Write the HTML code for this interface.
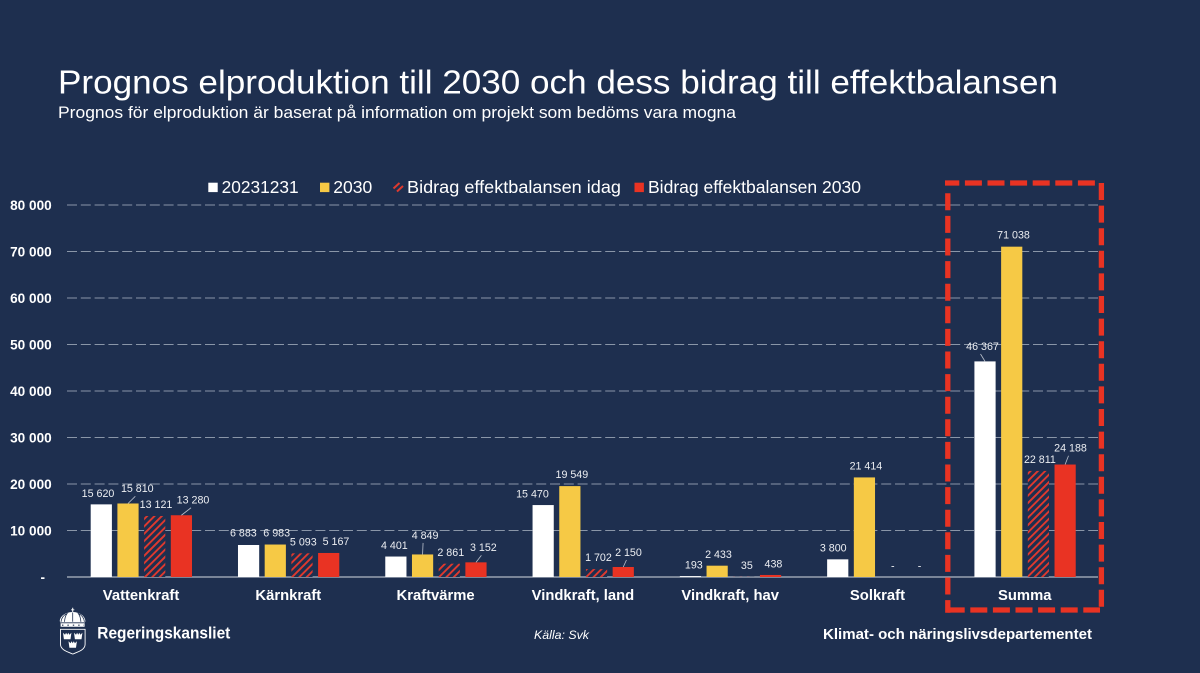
<!DOCTYPE html>
<html lang="sv">
<head>
<meta charset="utf-8">
<title>Prognos elproduktion till 2030</title>
<style>
  html, body { margin: 0; padding: 0; background: #1e2f4f; width: 1200px; height: 673px; overflow: hidden; }
  svg { display: block; font-family: "Liberation Sans", sans-serif; }
</style>
</head>
<body>
<svg id="chart" xmlns="http://www.w3.org/2000/svg" width="1200" height="673" viewBox="0 0 1200 673">
  <defs>
    <pattern id="hatch" patternUnits="userSpaceOnUse" width="5.2" height="5.2" patternTransform="rotate(45)">
      <rect x="0" y="0" width="5.2" height="5.2" fill="#1e2f4f"></rect>
      <rect x="0" y="0" width="1.9" height="5.2" fill="#e0392e"></rect>
    </pattern>
  </defs>
  <rect x="0" y="0" width="1200" height="673" fill="#1e2f4f"></rect>

  <text x="58" y="93.3" font-size="33.6" fill="#ffffff" textLength="1000" lengthAdjust="spacingAndGlyphs">Prognos elproduktion till 2030 och dess bidrag till effektbalansen</text>
  <text x="58" y="117.8" font-size="16.6" fill="#ffffff" textLength="678" lengthAdjust="spacingAndGlyphs">Prognos för elproduktion är baserat på information om projekt som bedöms vara mogna</text>

  <g id="plot"></g>

  <g font-size="17.2" fill="#ffffff">
    <g>
      <rect x="208.3" y="182.7" width="9.4" height="9.4" fill="#ffffff"></rect>
      <text x="221.7" y="193" textLength="77" lengthAdjust="spacingAndGlyphs">20231231</text>
    </g>
    <g>
      <rect x="320" y="182.7" width="9.4" height="9.4" fill="#f6c945"></rect>
      <text x="333.3" y="193" textLength="39" lengthAdjust="spacingAndGlyphs">2030</text>
    </g>
    <g>
      <g stroke="#e0392e" stroke-width="2" fill="none">
        <line x1="393.5" y1="188.5" x2="399.5" y2="183"></line>
        <line x1="397" y1="191.5" x2="403" y2="186"></line>
      </g>
      <text x="407" y="193" textLength="214" lengthAdjust="spacingAndGlyphs">Bidrag effektbalansen idag</text>
    </g>
    <g>
      <rect x="634.5" y="182.7" width="9.4" height="9.4" fill="#e93323"></rect>
      <text x="648" y="193" textLength="213" lengthAdjust="spacingAndGlyphs">Bidrag effektbalansen 2030</text>
    </g>
  </g>

  <g stroke="#e93323" stroke-width="5.3" fill="none" stroke-dasharray="17 5.6">
    <line x1="945" y1="183" x2="1098" y2="183" stroke-dashoffset="2.7"></line>
    <line x1="1101.4" y1="181" x2="1101.4" y2="607" stroke-dashoffset="-2"></line>
    <line x1="947.7" y1="610" x2="1100" y2="610"></line>
    <line x1="947.8" y1="193.3" x2="947.8" y2="612.7"></line>
  </g>

  <g>
    <g>
      <path fill="#ffffff" d="M72.2 607.8h1v1.6h1.100v.9h-1.100v1.700c7 .4 12 4.300 12.200 9.200l-.8 1.700v3.800H60.600v-3.800l-.8-1.700c.2-4.900 5.200-8.800 12.400-9.200v-1.700h-1.100v-.9h1.100z"></path>
      <path fill="none" stroke="#1e2f4f" stroke-width=".8" d="M61 621.800c.4-3.800 2.800-6.800 6-8.200-1.600 2.200-2.300 5.200-2.500 8.200M84.400 621.800c-.4-3.800-2.800-6.800-6-8.200 1.600 2.200 2.300 5.200 2.500 8.200M72.700 612.500v9.300M60.600 622.800h24.200"></path>
      <path fill="none" stroke="#1e2f4f" stroke-width="1.1" stroke-dasharray="1.400 4" d="M62 625.200h22"></path>
      <path fill="none" stroke="#ffffff" stroke-width=".9" d="M60.500 629.300h24.600v15c0 5.300-6 7.300-12.300 9.700-6.300-2.400-12.300-4.400-12.300-9.700z"></path>
      <path fill="#ffffff" d="M63 632.800l2 2 1.100-2 1.100 2 1.100-2 1.100 2 2-2-.9 6.400h-6.600z"></path>
      <path fill="#ffffff" d="M74 632.800l2 2 1.100-2 1.100 2 1.100-2 1.100 2 2-2-.9 6.400h-6.600z"></path>
      <path fill="#ffffff" d="M68.500 641.300l2 2 1.100-2 1.100 2 1.100-2 1.100 2 2-2-.9 6.400h-6.600z"></path>
    </g>
    <text x="97.300" y="638.500" font-size="16.500" font-weight="700" fill="#ffffff" textLength="133" lengthAdjust="spacingAndGlyphs">Regeringskansliet</text>
  </g>
  <text x="534" y="639" font-size="12" font-style="italic" fill="#ffffff" textLength="55" lengthAdjust="spacingAndGlyphs">Källa: Svk</text>
  <text x="823" y="639" font-size="14.300" font-weight="700" fill="#ffffff" textLength="269" lengthAdjust="spacingAndGlyphs">Klimat- och näringslivsdepartementet</text>
</svg>

<script>
const categories = ["Vattenkraft", "Kärnkraft", "Kraftvärme", "Vindkraft, land", "Vindkraft, hav", "Solkraft", "Summa"];
const produktion2023 = [15620, 6883, 4401, 15470, 193, 3800, 46367];
const produktion2030 = [15810, 6983, 4849, 19549, 2433, 21414, 71038];
const bidragIdag = [13121, 5093, 2861, 1702, 35, 0, 22811];
const bidrag2030 = [13280, 5167, 3152, 2150, 438, 0, 24188];
const yTicks = [0, 10000, 20000, 30000, 40000, 50000, 60000, 70000, 80000];

function renderChart() {
  const NS = "http://www.w3.org/2000/svg";
  const plot = document.getElementById("plot");
  const plotLeft = 67;
  const plotRight = 1098;
  const baseY = 577;
  const pxPerUnit = 372 / 80000;
  const groupStep = (plotRight - plotLeft) / categories.length;
  const barWidth = 21.2;
  const barStep = 26.7;
  const groupPad = 23.7;
  const seriesList = [
    { key: "20231231", values: produktion2023, fill: "#ffffff" },
    { key: "2030", values: produktion2030, fill: "#f6c945" },
    { key: "bidrag-idag", values: bidragIdag, fill: "url(#hatch)" },
    { key: "bidrag-2030", values: bidrag2030, fill: "#e93323" }
  ];
  // Manual label placement relative to each bar: [dx, dy, hasLeader], by category then series.
  const labelPlacement = [
    [[-3.3, -0.4], [9.3, -4.2, 1], [1.3, -0.7], [11.6, -4.5, 1]],
    [[-5.2, -1.3], [1.4, -0.8], [1.3, -0.6], [7.3, -1]],
    [[-1.5, -0.5], [2.5, -8.5, 1], [1.5, -0.7], [7.4, -4, 1]],
    [[-10.7, -0.3], [2, -0.7], [1.9, -0.7], [5.2, -4, 1]],
    [[3.4, -0.3], [1.3, -0.4], [3, -0.5], [2.9, -0.3]],
    [[-4.5, -0.6], [1.5, -0.7], [1.7, -0.3], [1.7, -0.3]],
    [[-2.5, -4.4, 1], [1.8, -1], [1.5, -0.6], [5.4, -5.8, 1]]
  ];

  function yScale(v) { return baseY - v * pxPerUnit; }
  function xBar(g, s) { return plotLeft + groupStep * g + groupPad + barStep * s; }
  function xCategory(g) { return plotLeft + groupStep * (g + 0.5); }
  function fmt(v) {
    if (v === 0) return "-";
    return String(v).replace(/\B(?=(\d{3})+$)/g, " ");
  }
  function make(tag, attrs, text) {
    const el = document.createElementNS(NS, tag);
    Object.keys(attrs).forEach(function (k) { el.setAttribute(k, attrs[k]); });
    if (text !== undefined) el.textContent = text;
    plot.appendChild(el);
    return el;
  }

  yTicks.forEach(function (t) {
    const y = yScale(t);
    if (t !== 0) {
      const line = make("line", { x1: plotLeft, x2: plotRight, y1: y, y2: y, stroke: "#8a96a8", "stroke-width": 1, "stroke-dasharray": "10 3.8" });
      
      
    }
    const label = make("text", { x: t === 0 ? 45 : 51.7, y: y + 4.8, "text-anchor": "end", "font-size": 13.6, "font-weight": 700, fill: "#ffffff" }, fmt(t));
    
    
  });

  const axis = make("line", { x1: plotLeft, x2: plotRight, y1: baseY, y2: baseY, stroke: "#98a2b1", "stroke-width": 1.4 });
  
  

  categories.forEach(function (name, g) {
    const cat = make("text", { x: xCategory(g) + 0.4, y: 600, "text-anchor": "middle", "font-size": 14.8, "font-weight": 700, fill: "#ffffff" }, name);
    
    

    seriesList.forEach(function (series, s) {
      const v = series.values[g];
      const x = xBar(g, s);
      const top = yScale(v);
      const bar = make("rect", { x: x, y: top, width: barWidth, height: Math.max(0, baseY - top), fill: series.fill });
      
      

      const place = labelPlacement[g][s];
      const cx = x + barWidth / 2;
      const lx = cx + place[0];
      const ly = top - 11 + place[1];
      if (place[2]) {
        const leader = make("line", { x1: cx, y1: top, x2: lx - 2, y2: ly + 8, stroke: "#b9c0cb", "stroke-width": 0.8 });
        
        
      }
      const val = make("text", { x: lx, y: ly + 3.8, "text-anchor": "middle", "font-size": 10.7, fill: "#eceef2" }, fmt(v));
      
      
    });
  });
}
renderChart();
</script>
</body>
</html>
